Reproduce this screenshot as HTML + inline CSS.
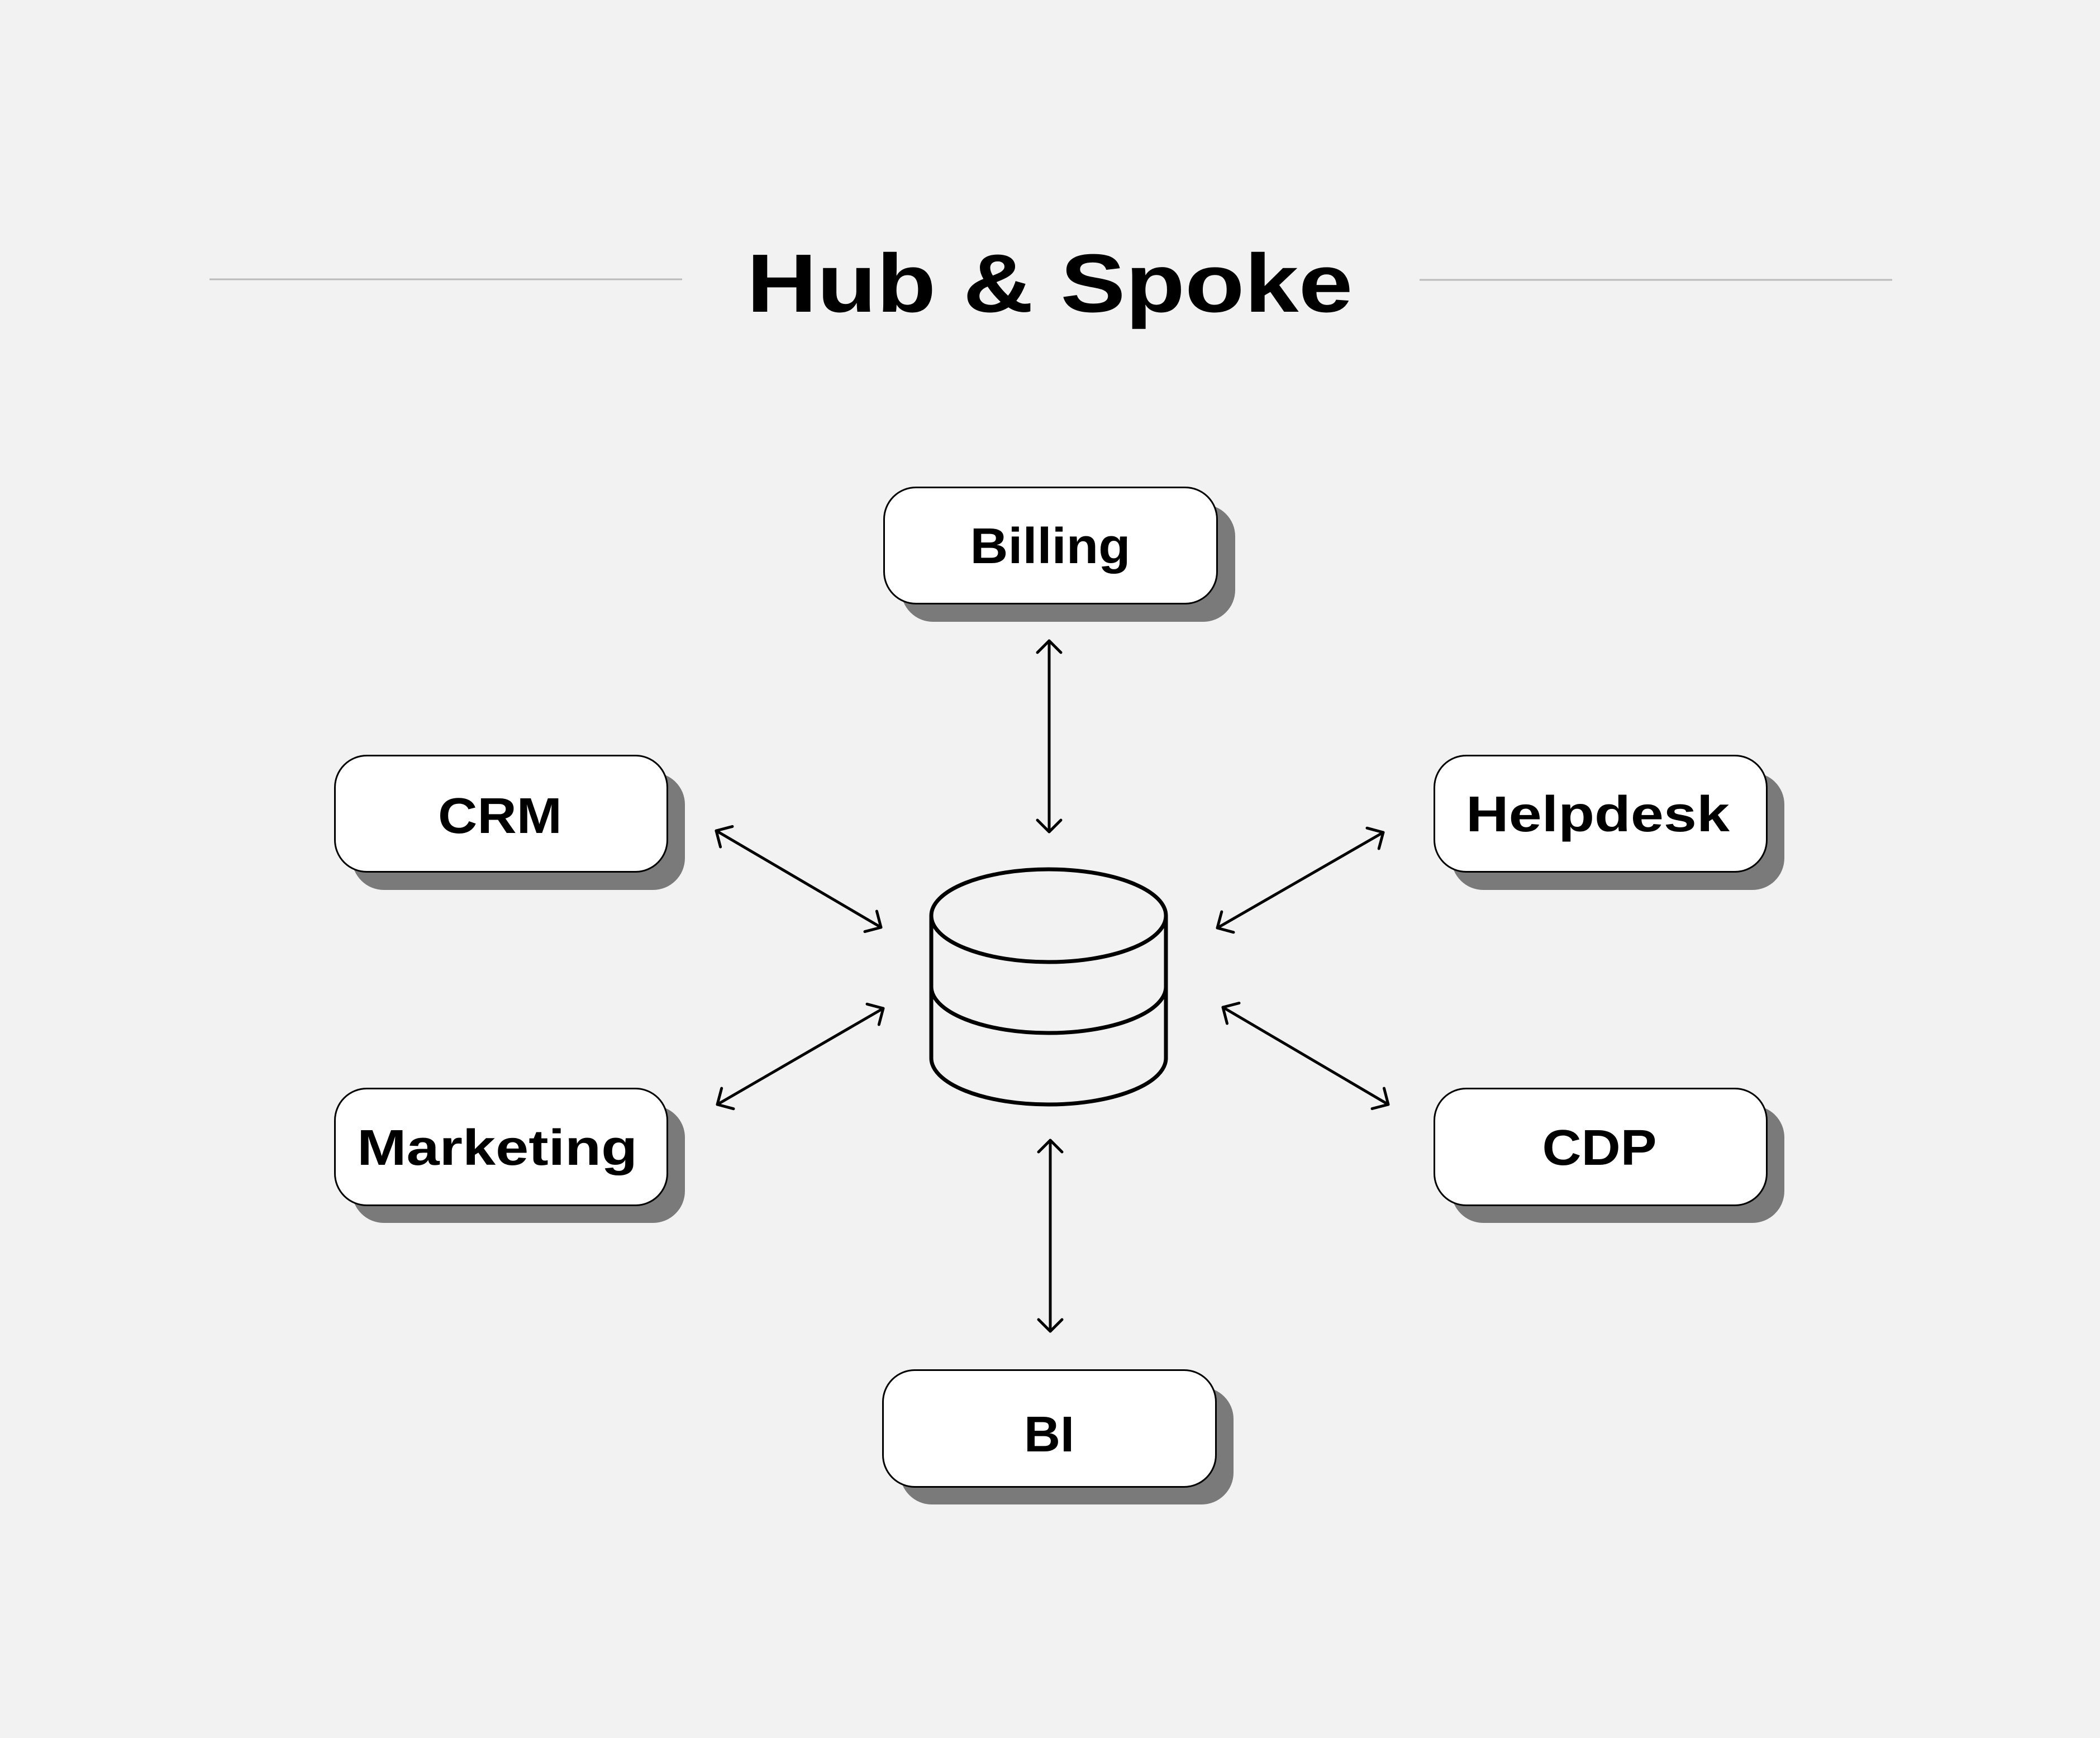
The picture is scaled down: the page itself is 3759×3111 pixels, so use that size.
<!DOCTYPE html>
<html>
<head>
<meta charset="utf-8">
<style>
  html, body { margin: 0; padding: 0; background: #f2f2f2; }
  body { width: 3759px; height: 3111px; overflow: hidden; }
  svg { display: block; }
  text { font-family: "Liberation Sans", Arial, sans-serif; font-weight: bold; fill: #000; }
</style>
</head>
<body>
<svg width="3759" height="3111" viewBox="0 0 3759 3111" xmlns="http://www.w3.org/2000/svg">
  <rect x="0" y="0" width="3759" height="3111" fill="#f2f2f2"/>

  <!-- Title lines -->
  <line x1="375" y1="500" x2="1221" y2="500" stroke="#bbbbbb" stroke-width="3"/>
  <line x1="2541" y1="501" x2="3387" y2="501" stroke="#bbbbbb" stroke-width="3"/>

  <!-- Title -->
  <text x="1879" y="558" font-size="148" text-anchor="middle" textLength="1085" lengthAdjust="spacingAndGlyphs">Hub &amp; Spoke</text>

  <!-- Boxes: shadow + box -->
  <g>
    <!-- Billing -->
    <rect x="1613" y="903" width="598" height="210" rx="57" ry="57" fill="#7a7a7a"/>
    <rect x="1582.5" y="872.5" width="596" height="208" rx="57" ry="57" fill="#fff" stroke="#000" stroke-width="3"/>
    <!-- CRM -->
    <rect x="630" y="1383" width="596" height="210" rx="57" ry="57" fill="#7a7a7a"/>
    <rect x="599.5" y="1352.5" width="595" height="208" rx="57" ry="57" fill="#fff" stroke="#000" stroke-width="3"/>
    <!-- Helpdesk -->
    <rect x="2598" y="1383" width="596" height="210" rx="57" ry="57" fill="#7a7a7a"/>
    <rect x="2567.5" y="1352.5" width="595" height="208" rx="57" ry="57" fill="#fff" stroke="#000" stroke-width="3"/>
    <!-- Marketing -->
    <rect x="630" y="1979" width="596" height="210" rx="57" ry="57" fill="#7a7a7a"/>
    <rect x="599.5" y="1948.5" width="595" height="209" rx="57" ry="57" fill="#fff" stroke="#000" stroke-width="3"/>
    <!-- CDP -->
    <rect x="2598" y="1979" width="596" height="210" rx="57" ry="57" fill="#7a7a7a"/>
    <rect x="2567.5" y="1948.5" width="595" height="209" rx="57" ry="57" fill="#fff" stroke="#000" stroke-width="3"/>
    <!-- BI -->
    <rect x="1611" y="2483" width="597" height="210" rx="57" ry="57" fill="#7a7a7a"/>
    <rect x="1580.5" y="2452.5" width="596" height="209" rx="57" ry="57" fill="#fff" stroke="#000" stroke-width="3"/>
  </g>

  <!-- Labels -->
  <text x="1880" y="1008" font-size="90" text-anchor="middle" textLength="287" lengthAdjust="spacingAndGlyphs">Billing</text>
  <text x="895" y="1491" font-size="90" text-anchor="middle" textLength="222" lengthAdjust="spacingAndGlyphs">CRM</text>
  <text x="2860" y="1488" font-size="90" text-anchor="middle" textLength="472" lengthAdjust="spacingAndGlyphs">Helpdesk</text>
  <text x="890" y="2085" font-size="90" text-anchor="middle" textLength="502" lengthAdjust="spacingAndGlyphs">Marketing</text>
  <text x="2863" y="2085" font-size="90" text-anchor="middle" textLength="205" lengthAdjust="spacingAndGlyphs">CDP</text>
  <text x="1878" y="2598" font-size="90" text-anchor="middle" textLength="90" lengthAdjust="spacingAndGlyphs">BI</text>

  <!-- Database cylinder -->
  <g fill="none" stroke="#000" stroke-width="7" stroke-linecap="round">
    <ellipse cx="1877" cy="1639" rx="210" ry="83"/>
    <line x1="1667" y1="1639" x2="1667" y2="1894"/>
    <line x1="2087" y1="1639" x2="2087" y2="1894"/>
    <path d="M1667 1766 A210 83 0 0 0 2087 1766"/>
    <path d="M1667 1894 A210 83 0 0 0 2087 1894"/>
  </g>

  <!-- Arrows -->
  <g fill="none" stroke="#000" stroke-width="5" stroke-linecap="round" stroke-linejoin="round">
    <!-- Billing vertical -->
    <line x1="1878" y1="1147" x2="1878" y2="1489"/>
    <polyline points="1857,1168 1878,1147 1899,1168"/>
    <polyline points="1857,1468 1878,1489 1899,1468"/>
    <!-- BI vertical -->
    <line x1="1880" y1="2041" x2="1880" y2="2383"/>
    <polyline points="1859,2062 1880,2041 1901,2062"/>
    <polyline points="1859,2362 1880,2383 1901,2362"/>
    <!-- CRM diagonal -->
    <line x1="1282" y1="1487" x2="1577" y2="1660"/>
    <polyline points="1289.6,1516 1282,1487 1311,1479.4"/>
    <polyline points="1569.4,1631 1577,1660 1548,1667.6"/>
    <!-- Helpdesk diagonal -->
    <line x1="2476" y1="1490" x2="2179" y2="1661"/>
    <polyline points="2447,1482.2 2476,1490 2468.2,1519"/>
    <polyline points="2208,1668.8 2179,1661 2186.8,1632"/>
    <!-- Marketing diagonal -->
    <line x1="1581" y1="1805" x2="1284" y2="1977"/>
    <polyline points="1552,1797.3 1581,1805 1573.3,1834"/>
    <polyline points="1313,1984.7 1284,1977 1291.7,1948"/>
    <!-- CDP diagonal -->
    <line x1="2189" y1="1803" x2="2485" y2="1977"/>
    <polyline points="2196.5,1832 2189,1803 2218,1795.5"/>
    <polyline points="2477.5,1948 2485,1977 2456,1984.5"/>
  </g>
</svg>
</body>
</html>
